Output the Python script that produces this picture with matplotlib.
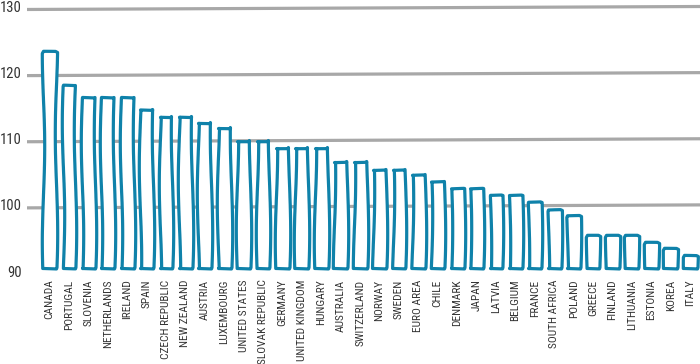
import matplotlib
matplotlib.use("Agg")
import matplotlib.pyplot as plt
from matplotlib import font_manager as fm

countries = ["CANADA", "PORTUGAL", "SLOVENIA", "NETHERLANDS", "IRELAND", "SPAIN",
             "CZECH REPUBLIC", "NEW ZEALAND", "AUSTRIA", "LUXEMBOURG", "UNITED STATES",
             "SLOVAK REPUBLIC", "GERMANY", "UNITED KINGDOM", "HUNGARY", "AUSTRALIA",
             "SWITZERLAND", "NORWAY", "SWEDEN", "EURO AREA", "CHILE", "DENMARK", "JAPAN",
             "LATVIA", "BELGIUM", "FRANCE", "SOUTH AFRICA", "POLAND", "GREECE", "FINLAND",
             "LITHUANIA", "ESTONIA", "KOREA", "ITALY"]
values = [123.1, 118.2, 116.3, 116.3, 116.3, 114.5, 113.4, 113.4, 112.6, 111.8,
          109.8, 109.8, 108.7, 108.7, 108.7, 106.7, 106.6, 105.5, 105.5, 104.6,
          103.6, 102.5, 102.5, 101.5, 101.5, 100.4, 99.3, 98.3, 95.3, 95.3,
          95.3, 94.2, 93.4, 92.3]
yticks = [90, 100, 110, 120, 130]


def pick_condensed():
    fl = fm.fontManager.ttflist
    prefs = ["Liberation Sans Narrow", "Roboto Condensed", "Open Sans Condensed",
             "Noto Sans Condensed", "DejaVu Sans Condensed"]
    for p in prefs:
        for f in fl:
            if f.name == p and f.weight in (400, "normal", "regular") and f.style == "normal":
                return f.fname
    cands = [f for f in fl if f.style == "normal"
             and (str(f.stretch) in ("condensed", "semi-condensed", "extra-condensed")
                  or (isinstance(f.stretch, int) and f.stretch < 500)
                  or "Condensed" in f.fname or "Narrow" in f.fname)]
    cands = [f for f in cands if "Bold" not in f.fname and "Light" not in f.fname
             and "Black" not in f.fname and "Thin" not in f.fname and "Medium" not in f.fname
             and "Semi" not in f.fname.split("/")[-1].replace("SemiCondensed", "")]
    for key in ["DejaVuSansCondensed.ttf", "Roboto", "OpenSans", "NotoSans", "Liberation"]:
        for f in cands:
            if key in f.fname:
                return f.fname
    if cands:
        return cands[0].fname
    return fm.findfont("DejaVu Sans")


FPATH = pick_condensed()

BLUE = "#0f82aa"
GREY = "#a8a8a8"
BASE = 90.5

fig = plt.figure(figsize=(7.0, 3.64), dpi=100)
ax = fig.add_axes([27/700, 1 - 274/364, 673/700, 271/364])
n = len(countries)
x = list(range(n))
xl = (-1.16, 33.51)
ax.set_xlim(*xl)
ax.set_ylim(89.55, 130.53)

for v in yticks[1:]:
    ax.plot(xl, [v - 0.45, v], color=GREY, lw=2.3, zorder=1, solid_capstyle="butt")

bars = ax.bar(x, [v - BASE for v in values], bottom=BASE, width=0.66,
              facecolor="white", edgecolor=BLUE, linewidth=2.3, zorder=2)
for b in bars:
    b.set_sketch_params(scale=1.2, length=200, randomness=1.5)
    b.set_joinstyle("round")

for s in ax.spines.values():
    s.set_visible(False)
yfp = fm.FontProperties(fname=FPATH, size=10.5)
xfp = fm.FontProperties(fname=FPATH, size=8.2)
ax.set_yticks(yticks)
ax.set_yticklabels([str(t) for t in yticks], fontproperties=yfp, color="#333333")
ax.tick_params(axis="y", length=0, pad=3.5)
ax.set_xticks(x)
ax.set_xticklabels(countries, rotation=90, fontproperties=xfp, color="#333333",
                   va="top", ha="center")
ax.tick_params(axis="x", length=0, pad=4)

fig.savefig("out.png", dpi=100, facecolor="white")
